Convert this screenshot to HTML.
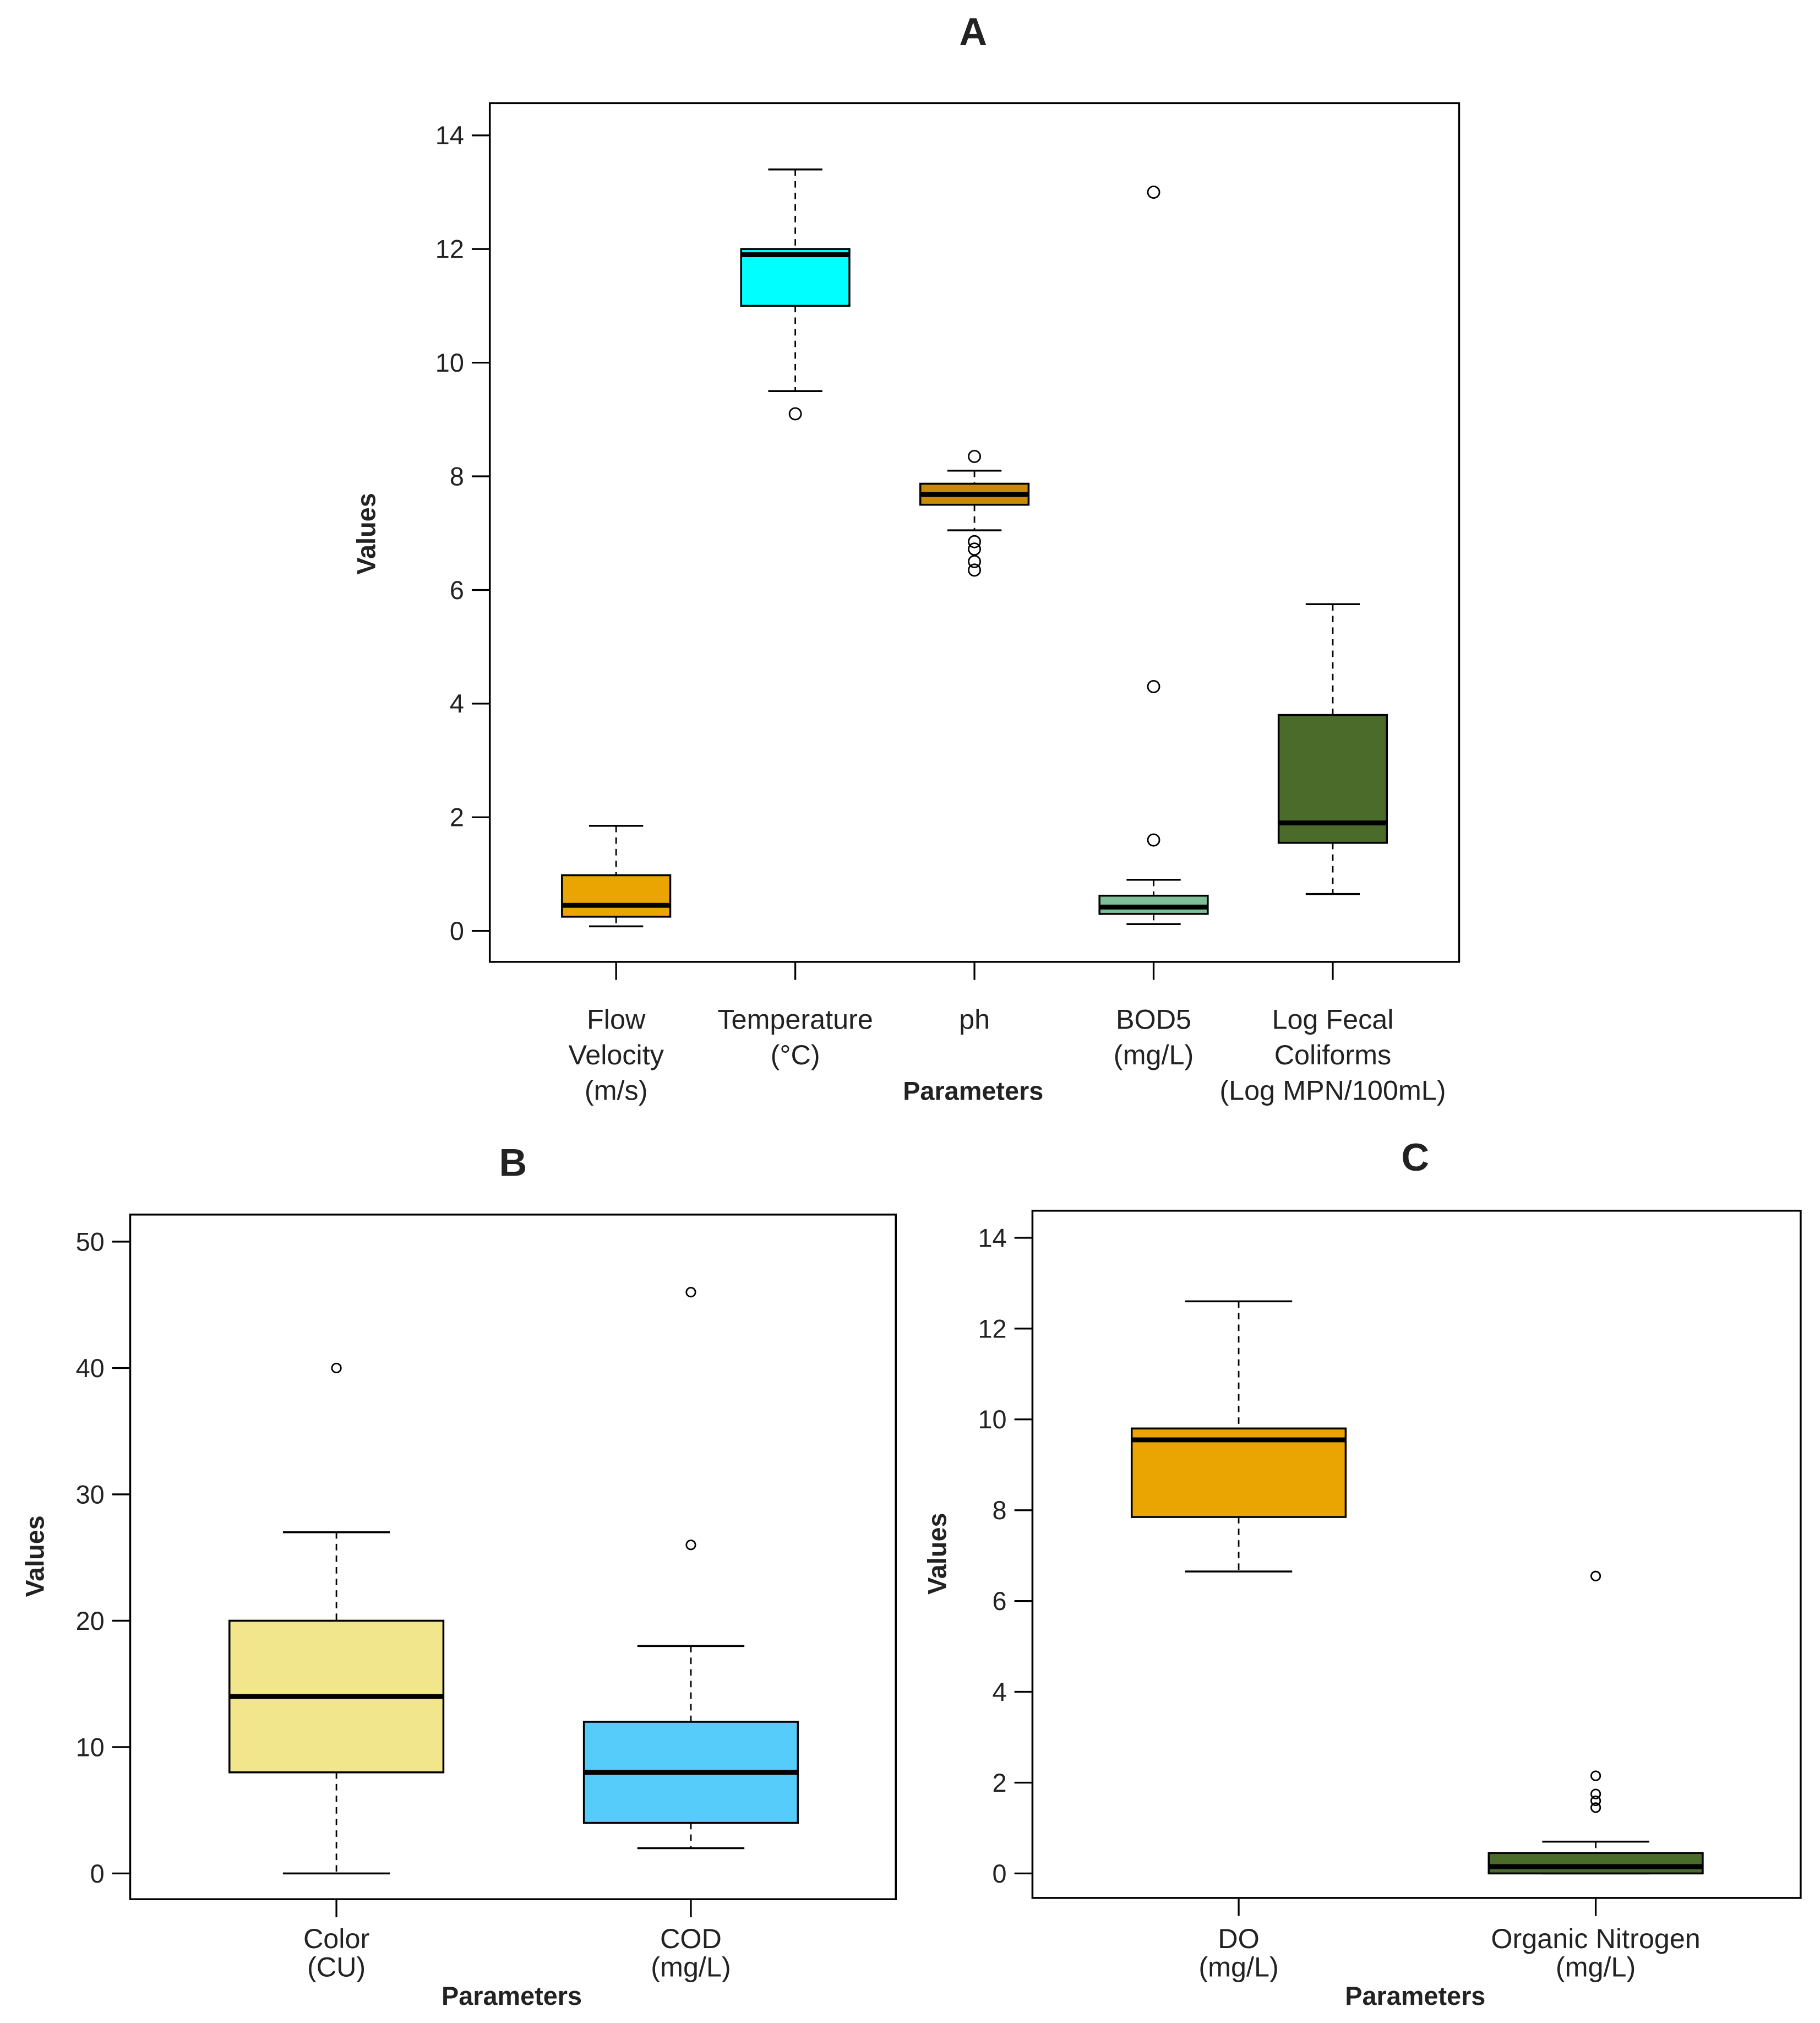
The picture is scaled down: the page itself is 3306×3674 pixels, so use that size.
<!DOCTYPE html>
<html><head><meta charset="utf-8"><style>
html,body{margin:0;padding:0;background:#fff;}
svg{display:block;}
text{font-family:"Liberation Sans",sans-serif;fill:#222;}
</style></head><body>
<svg id="fig" width="3306" height="3674" viewBox="0 0 1412 1569" preserveAspectRatio="none" xmlns="http://www.w3.org/2000/svg"></svg>
<script>
// Panel A data
const catsA = [["Flow","Velocity","(m/s)"],["Temperature","(°C)"],["ph"],["BOD5","(mg/L)"],["Log Fecal","Coliforms","(Log MPN/100mL)"]];
const lowA = [0.08, 9.5, 7.05, 0.12, 0.65];
const q1A = [0.25, 11.0, 7.5, 0.3, 1.55];
const medA = [0.45, 11.9, 7.68, 0.42, 1.9];
const q3A = [0.98, 12.0, 7.87, 0.62, 3.8];
const highA = [1.85, 13.4, 8.1, 0.9, 5.75];
const outA = [[], [9.1], [8.35, 6.85, 6.72, 6.5, 6.35], [1.6, 4.3, 13.0], []];
const colA = ["#EBA502", "#00FFFF", "#C98A0B", "#7FBF98", "#4A6B29"];
const ticksA = [0, 2, 4, 6, 8, 10, 12, 14];
// Panel B data
const catsB = [["Color","(CU)"],["COD","(mg/L)"]];
const lowB = [0, 2];
const q1B = [8, 4];
const medB = [14, 8];
const q3B = [20, 12];
const highB = [27, 18];
const outB = [[40], [26, 46]];
const colB = ["#F2E68C", "#56CCFA"];
const ticksB = [0, 10, 20, 30, 40, 50];
// Panel C data
const catsC = [["DO","(mg/L)"],["Organic Nitrogen","(mg/L)"]];
const lowC = [6.65, 0];
const q1C = [7.85, 0];
const medC = [9.55, 0.15];
const q3C = [9.8, 0.45];
const highC = [12.6, 0.7];
const outC = [[], [6.55, 2.15, 1.75, 1.6, 1.45]];
const colC = ["#EBA502", "#4A6B29"];
const ticksC = [0, 2, 4, 6, 8, 10, 12, 14];

const svg = document.getElementById('fig');
const NS = "http://www.w3.org/2000/svg";
function mk(tag, attrs, parent){
  const e = document.createElementNS(NS, tag);
  for (const k in attrs) e.setAttribute(k, attrs[k]);
  (parent||svg).appendChild(e);
  return e;
}
function txt(s, x, y, size, bold, anchor, parent, rot){
  const t = mk('text', {x:x, y:y, 'font-size':size, 'text-anchor':anchor||'middle'}, parent);
  if (bold) t.setAttribute('font-weight','bold');
  if (rot) t.setAttribute('transform', 'rotate(-90 '+x+' '+y+')');
  t.textContent = s;
  return t;
}

function panel(cfg){
  const g = mk('g', {});
  
  
  const yS = v => cfg.y0 + (v - cfg.v0) * (cfg.y1 - cfg.y0) / (cfg.v1 - cfg.v0);
  const xS = i => cfg.xs[0] + i * (cfg.xs[1] - cfg.xs[0]) / (cfg.cats.length - 1);
  const fr = mk('rect', {x:cfg.bx, y:cfg.by, width:cfg.bw, height:cfg.bh, fill:'none', stroke:'#000', 'stroke-width':1.5}, g);
  
  
  // y axis (ticks only)
  const ya = mk('g', {}, g);
  
  
  const ax = cfg.bx;
  cfg.ticks.forEach(t => {
    mk('line', {x1:ax-14, x2:ax, y1:yS(t), y2:yS(t), stroke:'#000', 'stroke-width':1.4}, ya);
    const l = txt(String(t), ax-20, yS(t)+7, 20, false, 'end', ya);
    
    
  });
  const yt = txt('Values', cfg.vx, cfg.vy, 20, true, 'middle', g, true);
  
  
  // x axis (ticks only)
  const by2 = cfg.by + cfg.bh;
  const xa = mk('g', {}, g);
  
  
  cfg.cats.forEach((c, i) => {
    mk('line', {x1:xS(i), x2:xS(i), y1:by2, y2:by2+14, stroke:'#000', 'stroke-width':1.4}, xa);
    c.forEach((s, j) => {
      const l = txt(s, xS(i), cfg.ly + j*cfg.lh, 21.5, false, 'middle', xa);
      
      
    });
  });
  const xt = txt('Parameters', cfg.px, cfg.py, 20, true, 'middle', g);
  
  
  const tt = txt(cfg.title, cfg.tx, cfg.ty, 30, true, 'middle', g);
  
  
  cfg.cats.forEach((c, i) => {
    const bg = mk('g', {}, g);
    
    
    const x = xS(i), hw = cfg.hw, cw = hw/2;
    mk('line', {x1:x, x2:x, y1:yS(cfg.high[i]), y2:yS(cfg.q3[i]), stroke:'#000', 'stroke-width':1.2, 'stroke-dasharray':'5,4'}, bg);
    mk('line', {x1:x, x2:x, y1:yS(cfg.q1[i]), y2:yS(cfg.low[i]), stroke:'#000', 'stroke-width':1.2, 'stroke-dasharray':'5,4'}, bg);
    mk('line', {x1:x-cw, x2:x+cw, y1:yS(cfg.high[i]), y2:yS(cfg.high[i]), stroke:'#000', 'stroke-width':1.5}, bg);
    mk('line', {x1:x-cw, x2:x+cw, y1:yS(cfg.low[i]), y2:yS(cfg.low[i]), stroke:'#000', 'stroke-width':1.5}, bg);
    mk('rect', {x:x-hw, y:yS(cfg.q3[i]), width:2*hw, height:Math.max(yS(cfg.q1[i])-yS(cfg.q3[i]),0.5), fill:cfg.col[i], stroke:'#000', 'stroke-width':1.5}, bg);
    mk('line', {x1:x-hw, x2:x+hw, y1:yS(cfg.med[i]), y2:yS(cfg.med[i]), stroke:'#000', 'stroke-width':3.8}, bg);
    cfg.out[i].forEach(v => {
      const o = mk('circle', {cx:x, cy:yS(v), r:cfg.r, fill:'none', stroke:'#000', 'stroke-width':1.2}, bg);
      
      
    });
  });
}

panel({name:'panel-a', title:'A', tx:755, ty:35, bx:380, by:80, bw:752, bh:666,
  v0:0, v1:14, y0:722, y1:105, xs:[478,1034], hw:42, r:4.5,
  cats:catsA, low:lowA, q1:q1A, med:medA, q3:q3A, high:highA, out:outA, col:colA, ticks:ticksA,
  vx:291, vy:414, ly:798, lh:27.5, px:755, py:853});
panel({name:'panel-b', title:'B', tx:398, ty:912, bx:101, by:942, bw:594, bh:531,
  v0:0, v1:50, y0:1453, y1:963, xs:[261,536], hw:83, r:3.5,
  cats:catsB, low:lowB, q1:q1B, med:medB, q3:q3B, high:highB, out:outB, col:colB, ticks:ticksB,
  vx:34, vy:1207, ly:1511, lh:22, px:397, py:1555});
panel({name:'panel-c', title:'C', tx:1098, ty:908, bx:801, by:939, bw:596, bh:533,
  v0:0, v1:14, y0:1453, y1:960, xs:[961,1238], hw:83, r:3.5,
  cats:catsC, low:lowC, q1:q1C, med:medC, q3:q3C, high:highC, out:outC, col:colC, ticks:ticksC,
  vx:734, vy:1205, ly:1511, lh:22, px:1098, py:1555});
</script>
</body></html>
